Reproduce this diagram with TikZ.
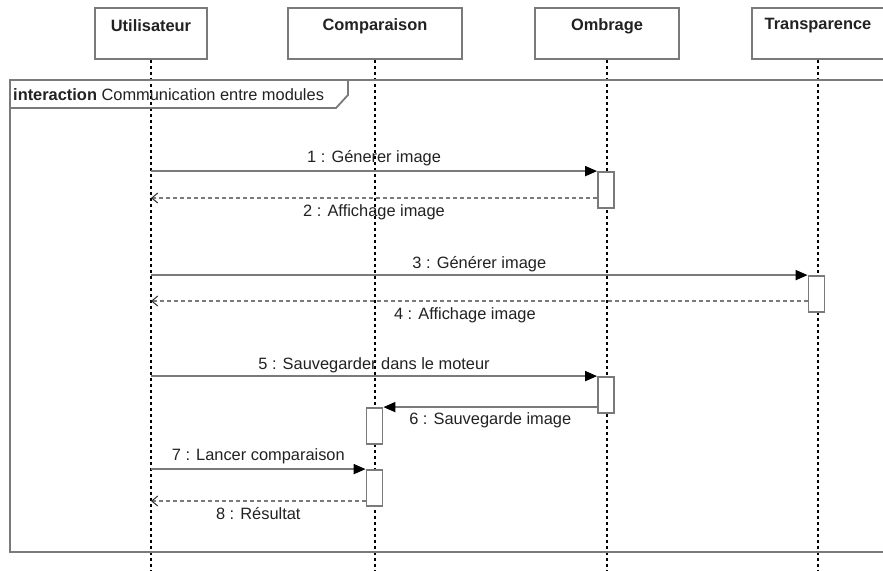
\documentclass[tikz,border=0pt]{standalone}
\usepackage{fontspec}
\setmainfont{Liberation Sans}
\usetikzlibrary{arrows.meta}
\definecolor{edge}{HTML}{7A7A7A}
\definecolor{txt}{HTML}{222222}
\begin{document}
\begin{tikzpicture}[x=1pt,y=-1pt,
  every node/.style={font=\fontsize{16.4}{19}\selectfont, text=txt},
  actor/.style={draw=edge, line width=1.8pt, fill=white, minimum height=51pt, inner sep=0pt},
  acttext/.style={font=\fontsize{16.4}{19}\selectfont\bfseries, anchor=center},
  lifeline/.style={draw=black, line width=1.1pt, dash pattern=on 3pt off 3pt},
  act/.style={draw=edge, line width=1.8pt, fill=white, minimum width=16pt, inner sep=0pt},
  msg/.style={draw=edge, line width=1.8pt, -{Triangle[length=12pt,width=10pt,black]}},
  ret/.style={draw=edge, line width=1.5pt, dash pattern=on 4pt off 3pt, -{Straight Barb[length=6pt,width=10pt,line width=1pt,black!80]}},
  lab/.style={text height=12pt, text depth=3.5pt, inner sep=0pt, fill=none}
]
\useasboundingbox[fill=white] (0,0) rectangle (883,570);
% actors
\node[actor, minimum width=112pt] (u) at (151,33.5) {};
\node[actor, minimum width=174pt] (c) at (375,33.5) {};
\node[actor, minimum width=144pt] (o) at (607,33.5) {};
\node[actor, minimum width=132pt] (t) at (818,33.5) {};
\node[acttext] (ut) at (151,26) {Utilisateur};
\node[acttext] (ct) at (375,26) {Comparaison};
\node[acttext] (ot) at (607,26) {Ombrage};
\node[acttext] (tt) at (818,26) {Transparence};
% lifelines
\coordinate (ue) at (151,570);
\coordinate (ce) at (375,570);
\coordinate (oe) at (607,570);
\coordinate (te) at (818,570);
\draw[lifeline] (u.south) -- (ue);
\draw[lifeline] (c.south) -- (ce);
\draw[lifeline] (o.south) -- (oe);
\draw[lifeline] (t.south) -- (te);
% frame
\draw[edge, line width=1.8pt] (890,80) -- (10,80) -- (10,552) -- (890,552);
\draw[edge, line width=1.8pt] (10,108) -- (336,108) -- (348,95) -- (348,80);
\node[anchor=west, inner sep=0pt] (fl) at (13,95) {\textbf{interaction} Communication entre modules};
% activations
\node[act, minimum height=36pt] (a1) at (606,190) {};
\node[act, minimum height=36pt] (a2) at (816.5,294) {};
\node[act, minimum height=36pt] (a3) at (606,395) {};
\node[act, minimum height=36pt] (a4) at (374.5,426) {};
\node[act, minimum height=36pt] (a5) at (374.5,488) {};
% messages
\coordinate (m1s) at (u.south |- a1.north west);
\draw[msg] (m1s) -- (a1.north west) node[lab, midway, yshift=13pt] (l1) {1 : Génerer image};
\coordinate (m2e) at (151,198);
\draw[ret] (a1.west |- m2e) -- (m2e) node[lab, midway, yshift=-14pt] (l2) {2 : Affichage image};
\coordinate (m3s) at (u.south |- a2.north west);
\draw[msg] (m3s) -- (a2.north west) node[lab, midway, yshift=11pt] (l3) {3 : Générer image};
\coordinate (m4e) at (151,301);
\draw[ret] (a2.west |- m4e) -- (m4e) node[lab, pos=0.522, yshift=-14pt] (l4) {4 : Affichage image};
\coordinate (m5s) at (u.south |- a3.north west);
\draw[msg] (m5s) -- (a3.north west) node[lab, midway, yshift=11pt] (l5) {5 : Sauvegarder dans le moteur};
\draw[msg] (a3.west |- a4.north) -- (a4.north east) node[lab, midway, yshift=-13pt] (l6) {6 : Sauvegarde image};
\coordinate (m7s) at (u.south |- a5.north west);
\draw[msg] (m7s) -- (a5.north west) node[lab, midway, yshift=13pt] (l7) {7 : Lancer comparaison};
\coordinate (m8e) at (151,501);
\draw[ret] (a5.west |- m8e) -- (m8e) node[lab, midway, yshift=-14pt] (l8) {8 : Résultat};
\end{tikzpicture}
\end{document}
